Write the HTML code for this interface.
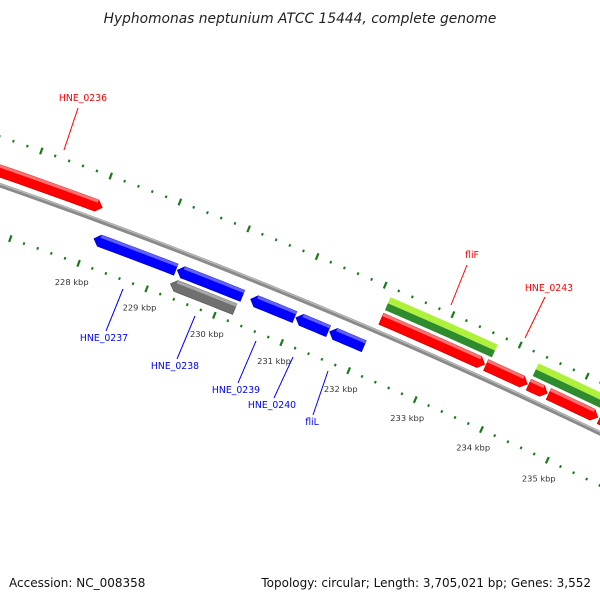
<!DOCTYPE html>
<html><head><meta charset="utf-8"><style>
html,body{margin:0;padding:0;background:#fff}
svg{display:block}
text{font-family:"DejaVu Sans","Liberation Sans",sans-serif}
</style></head><body>
<svg id="map" width="600" height="600" viewBox="0 0 600 600" xmlns="http://www.w3.org/2000/svg">
<rect width="600" height="600" fill="#fff"/>
<text x="300" y="23" text-anchor="middle" font-size="13.8" font-style="italic" fill="#222">Hyphomonas neptunium ATCC 15444, complete genome</text>
<g id="plot"></g>
<text x="9" y="587" font-size="12" fill="#111">Accession: NC_008358</text>
<text x="591" y="587" text-anchor="end" font-size="12" fill="#111">Topology: circular; Length: 3,705,021 bp; Genes: 3,552</text>
</svg>
<script>
// data
const tickStartKbp = 226;
const tickEndKbp = 236;
const majorTickLabels = ["228 kbp","229 kbp","230 kbp","231 kbp","232 kbp","233 kbp","234 kbp","235 kbp"];
const majorTickValues = [228,229,230,231,232,233,234,235];
const featureNames = ["HNE_0236","HNE_0237a","HNE_0237","HNE_0238","HNE_0239","HNE_0240","fliL","fliF","HNE_0242","HNE_0243","HNE_0244","HNE_0245"];
const featureStarts = [225.0,228.08,229.30,229.28,230.38,231.05,231.55,232.13,233.69,234.33,234.63,235.40];
const featureEnds   = [228.04,229.28,230.26,230.23,231.03,231.53,232.06,233.67,234.31,234.61,235.37,236.5];
const featureStrand = [1,-1,-1,-1,-1,-1,-1,1,1,1,1,1];
const featureType   = ["red","blue","blue","gray","blue","blue","blue","red","red","red","red","red"];
const hitStarts = [232.13,234.33];
const hitEnds = [233.72,236.5];
const labelTexts = ["HNE_0236","HNE_0237","HNE_0238","HNE_0239","HNE_0240","fliL","fliF","HNE_0243"];
const labelColors = ["#f00","#00f","#00f","#00f","#00f","#00f","#f00","#f00"];

// geometry
const CX=-1876, CY=5573, A0=-69.79, DEG=0.7357;
const R_BACK=5705, R_TOP=5751, R_BOT=5658, R_LAB=5638;
function P(k,r){const a=(A0+(k-228)*DEG)*Math.PI/180;return [CX+r*Math.cos(a), CY+r*Math.sin(a)];}
const NS="http://www.w3.org/2000/svg";
const g=document.getElementById('plot');
function el(tag,attrs){const e=document.createElementNS(NS,tag);for(const k in attrs)e.setAttribute(k,attrs[k]);g.appendChild(e);return e;}
function pts(arr){return arr.map(p=>p[0].toFixed(2)+","+p[1].toFixed(2)).join(" ");}
function band(k1,k2,r1,r2){const a=[];const n=8;for(let i=0;i<=n;i++)a.push(P(k1+(k2-k1)*i/n,r2));for(let i=n;i>=0;i--)a.push(P(k1+(k2-k1)*i/n,r1));return a;}

// backbone
const bb=[];for(let k=224;k<=237.5;k+=0.25)bb.push(P(k,R_BACK));
let e=el('polyline',{points:pts(bb),fill:'none',stroke:'#8a8a8a','stroke-width':4.5});


const bb2=[];for(let k=224;k<=237.5;k+=0.25)bb2.push(P(k,R_BACK+1.2));
e=el('polyline',{points:pts(bb2),fill:'none',stroke:'#bdbdbd','stroke-width':1.2});



// ticks
for(let i=0;i<=(tickEndKbp-tickStartKbp)*5;i++){
  const k=tickStartKbp+i*0.2;
  const major=(i%5===0);
  [R_TOP,R_BOT].forEach((r,j)=>{
    const h=major?3.5:1.3;
    const p1=P(k,r-h),p2=P(k,r+h);
    const t=el('line',{x1:p1[0],y1:p1[1],x2:p2[0],y2:p2[1],stroke:'#1a7a1a','stroke-width':major?2.2:2});
    
    
  });
}
majorTickValues.forEach((v,i)=>{
  const p=P(v,R_LAB);
  const t=el('text',{x:p[0].toFixed(1),y:(p[1]+3).toFixed(1),'text-anchor':'middle','font-size':'8.3',fill:'#333'});
  t.textContent=majorTickLabels[i];
  
  
});

// similarity hits (green/lime)
hitStarts.forEach((s,i)=>{
  let h=el('polygon',{points:pts(band(s,hitEnds[i],5728,5735.5)),fill:'#2e8b2e'});
  
  
  h=el('polygon',{points:pts(band(s,hitEnds[i],5735.5,5742)),fill:'#aef03a'});
  
  
});

// features
const colors={red:['#ff0000','#ff7070','#c80000'],blue:['#0000ff','#6060ff','#0000b0'],gray:['#707070','#a8a8a8','#505050']};
featureNames.forEach((nm,i)=>{
  const s=featureStarts[i],en=featureEnds[i],st=featureStrand[i];
  let r1,r2;
  if(featureType[i]==='gray'){r1=5665.5;r2=5677;}
  else if(st>0){r1=5712.5;r2=5724.5;} else {r1=5680.5;r2=5692.5;}
  const rm=(r1+r2)/2, d=0.08;
  let poly;
  if(st>0){const b=band(s,en-d,r1,r2);const n=b.length/2;poly=b.slice(0,n).concat([P(en,rm)]).concat(b.slice(n));}
  else{const b=band(s+d,en,r1,r2);const n=b.length/2;poly=b.slice(0,n).concat(b.slice(n)).concat([P(s,rm)]);}
  const c=colors[featureType[i]];
  let f=el('polygon',{points:pts(poly),fill:c[0],stroke:c[2],'stroke-width':0.6});
  
  
  const hs=st>0?s:s+d, he=st>0?en-d:en;
  f=el('polygon',{points:pts(band(hs,he,r2-3,r2)),fill:c[1]});
  
  
});

// labels
const labelPos=[[83,101,78,108,64,150],[104,341,106,331,123,289],[175,369,177,359,195,316],[236,393,238,383,256,341],[272,408,274,398,293,357],[312,425,313,415,328,371],[472,258,467,265,451,305],[549,291,545,297,525,338]];
labelTexts.forEach((t,i)=>{
  const L=labelPos[i];
  let ln=el('line',{x1:L[2],y1:L[3],x2:L[4],y2:L[5],stroke:labelColors[i],'stroke-width':1});
  
  
  const tx=el('text',{x:L[0],y:L[1],'text-anchor':'middle','font-size':'9.3',fill:labelColors[i]});
  tx.textContent=t;
  
  
});
</script>
</body></html>
